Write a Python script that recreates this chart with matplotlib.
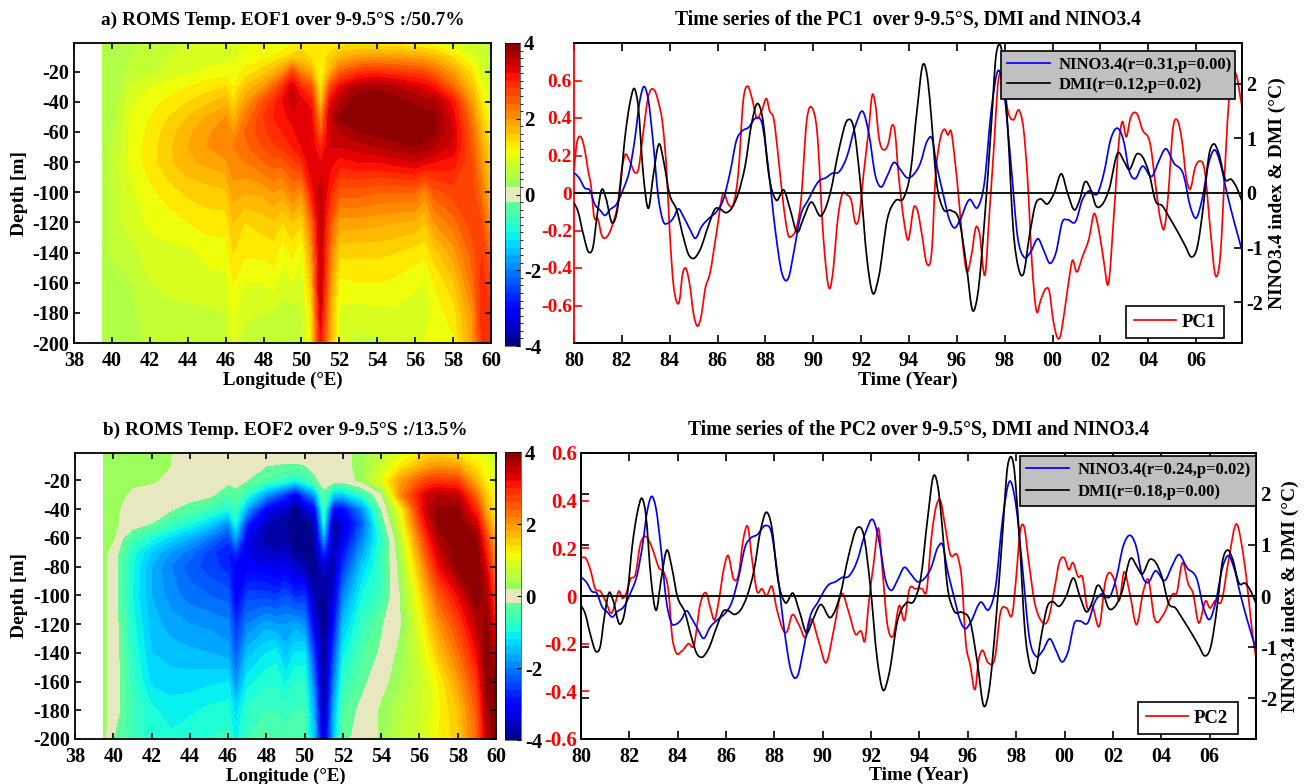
import numpy as np
import matplotlib
matplotlib.use('Agg')
import matplotlib.pyplot as plt
from matplotlib.colors import ListedColormap, BoundaryNorm
from matplotlib.lines import Line2D
from matplotlib.patches import PathPatch
from matplotlib.path import Path

plt.rcParams['font.family'] = ['Liberation Serif', 'DejaVu Serif']
plt.rcParams['font.weight'] = 'bold'
plt.rcParams['axes.labelweight'] = 'bold'
plt.rcParams['axes.unicode_minus'] = False

W, H = 1306, 784

lon = [39.5, 40, 40.5, 41, 42, 43, 44, 45, 46, 46.4, 47, 48, 48.5, 49, 49.5, 50, 50.5, 51, 51.5, 52,
       53, 54, 55, 56, 56.5, 57, 58, 59, 59.5, 60]
depth = [-1, -10, -20, -30, -40, -50, -60, -70, -80, -100, -120, -140, -160, -180, -200]

eof1 = [
    [.5, .5, .5, .5, .7, .75, .8, .85, .85, .85, 1.0, 1.05, 1.1, 1.1, 1.15, 1.3, 1.3, 1.3, 1.3, 1.3, 1.3, 1.25, 1.2, 1.2, 1.15, 1.05, .9, .7, .7, .7],
    [.5, .5, .55, .6, .7, .8, .85, .9, .95, .95, 1.05, 1.15, 1.2, 1.3, 1.45, 1.5, 1.35, 1.3, 1.45, 1.7, 1.9, 1.95, 1.9, 1.85, 1.8, 1.7, 1.35, 1.0, .8, .7],
    [.5, .5, .55, .65, .75, .85, .95, 1.05, 1.1, 1.05, 1.25, 1.5, 1.7, 2.0, 2.7, 2.1, 1.8, 1.05, 1.8, 2.4, 2.8, 2.9, 2.8, 2.7, 2.6, 2.4, 1.9, 1.3, .9, .7],
    [.5, .5, .6, .85, 1.0, 1.1, 1.2, 1.3, 1.4, 1.2, 1.6, 2.0, 2.4, 2.9, 3.4, 2.9, 2.6, 1.2, 2.6, 3.2, 3.7, 3.75, 3.6, 3.4, 3.3, 3.1, 2.4, 1.6, 1.1, .8],
    [.45, .5, .7, .95, 1.1, 1.25, 1.4, 1.55, 1.7, 1.4, 1.9, 2.6, 2.9, 3.2, 3.5, 3.3, 3.1, 1.5, 3.2, 3.6, 3.95, 4.0, 3.9, 3.75, 3.7, 3.7, 3.1, 1.9, 1.3, .95],
    [.45, .5, .75, 1.0, 1.2, 1.4, 1.6, 1.8, 2.0, 1.7, 2.2, 2.8, 3.0, 3.1, 3.3, 3.4, 3.3, 2.0, 3.5, 3.85, 3.95, 4.0, 4.0, 3.95, 3.9, 3.85, 3.3, 2.2, 1.5, 1.05],
    [.45, .55, .8, 1.05, 1.25, 1.5, 1.75, 1.95, 2.15, 1.95, 2.4, 2.75, 2.9, 3.0, 3.1, 3.4, 3.4, 2.4, 3.5, 3.6, 3.8, 3.9, 3.95, 4.0, 3.9, 3.85, 3.4, 2.4, 1.7, 1.2],
    [.5, .65, .8, 1.05, 1.3, 1.55, 1.8, 2.0, 2.15, 2.2, 2.35, 2.6, 2.75, 2.85, 3.0, 3.2, 3.4, 2.9, 3.4, 3.4, 3.5, 3.6, 3.7, 3.8, 3.7, 3.6, 3.35, 2.5, 1.9, 1.3],
    [.5, .7, .85, 1.05, 1.3, 1.55, 1.75, 1.85, 1.95, 2.15, 2.2, 2.4, 2.5, 2.5, 2.7, 2.9, 3.4, 3.2, 3.3, 3.1, 3.2, 3.2, 3.3, 3.4, 3.3, 3.2, 3.1, 2.6, 2.0, 1.4],
    [.5, .7, .8, .95, 1.15, 1.3, 1.45, 1.5, 1.55, 1.9, 1.8, 1.85, 2.0, 1.9, 2.2, 2.0, 3.0, 3.6, 3.0, 2.5, 2.5, 2.4, 2.4, 2.4, 2.1, 2.5, 2.7, 2.7, 2.3, 1.6],
    [.5, .7, .8, .85, 1.05, 1.1, 1.2, 1.3, 1.3, 1.6, 1.4, 1.5, 1.55, 1.4, 1.6, 1.45, 2.3, 3.6, 2.6, 1.9, 1.9, 1.85, 1.8, 1.75, 1.6, 2.0, 2.3, 2.7, 2.6, 1.9],
    [.5, .65, .75, .75, .9, .95, .95, 1.05, 1.1, 1.4, 1.25, 1.25, 1.3, 1.1, 1.25, 1.05, 1.9, 3.6, 2.3, 1.45, 1.45, 1.45, 1.4, 1.3, 1.25, 1.5, 1.9, 2.5, 2.8, 2.3],
    [.5, .45, .45, .6, .8, .85, .9, .95, .95, 1.2, 1.0, 1.0, 1.1, .85, 1.0, .85, 1.6, 3.6, 2.1, 1.15, 1.2, 1.2, 1.15, 1.05, 1.0, 1.2, 1.55, 2.3, 2.9, 2.6],
    [.5, .5, .5, .55, .7, .75, .75, .75, .8, 1.05, .85, .8, .8, .75, .75, .75, 1.3, 3.4, 1.9, .95, .9, .95, .95, .9, .85, 1.1, 1.3, 2.0, 2.9, 2.9],
    [.5, .5, .5, .5, .65, .7, .7, .7, .75, 1.0, .7, .65, .7, .6, .55, .7, 1.2, 3.1, 1.8, .85, .75, .75, .85, .95, 1.05, 1.2, 1.15, 1.9, 2.8, 3.0],
]

eof2 = [
    [.4, .4, .4, .4, .3, .2, .1, .05, 0, 0, 0, 0, 0, -.02, -.02, 0, .05, .05, .05, .1, .3, .6, .95, 1.25, 1.4, 1.45, 1.3, 1.0, .95, .9],
    [.4, .4, .4, .4, .35, .2, .05, 0, -.05, -.05, -.08, -.2, -.22, -.25, -.25, -.22, -.1, 0, .03, .05, .35, .8, 1.25, 1.7, 1.9, 2.0, 1.9, 1.3, 1.05, .95],
    [.35, .35, .33, .3, .25, .1, .05, 0, -.1, -.1, -.2, -.45, -.55, -.7, -1.0, -.7, -.3, -.05, -.02, 0, .3, 1.0, 1.9, 2.5, 2.7, 2.8, 2.7, 1.7, 1.2, 1.0],
    [.3, .3, .25, .1, .05, 0, 0, -.1, -.45, -.3, -.8, -1.8, -2.2, -2.6, -3.2, -2.4, -1.8, -.3, -1.4, -1.4, -.7, .1, 2.1, 3.1, 3.5, 3.6, 3.5, 2.3, 1.5, 1.1],
    [.3, .3, .15, .05, 0, -.15, -.4, -.6, -.9, -.6, -1.7, -3.1, -3.4, -3.5, -3.9, -3.5, -3.1, -.6, -3.0, -3.0, -1.9, -.2, 1.1, 3.0, 3.6, 3.85, 3.85, 2.9, 1.8, 1.2],
    [.3, .3, .1, 0, -.2, -.6, -.9, -1.3, -1.9, -1.0, -2.7, -3.6, -3.7, -3.8, -3.95, -3.9, -3.7, -1.0, -3.8, -3.4, -2.3, -.5, .9, 2.7, 3.4, 3.9, 4.0, 3.4, 2.2, 1.3],
    [.3, .25, -.2, -.5, -.9, -1.3, -1.6, -2.0, -2.5, -1.7, -3.2, -3.7, -3.75, -3.7, -3.95, -3.95, -3.85, -1.7, -3.85, -3.3, -2.0, -.8, .6, 2.3, 3.1, 3.7, 4.0, 3.8, 2.7, 1.6],
    [.3, 0, -.4, -.9, -1.4, -1.8, -2.1, -2.5, -2.8, -2.6, -3.3, -3.5, -3.6, -3.5, -3.8, -3.9, -3.85, -2.6, -3.7, -2.9, -1.7, -.7, .45, 2.0, 2.8, 3.4, 4.0, 4.0, 3.0, 1.9],
    [.3, 0, -.45, -.95, -1.6, -2.0, -2.3, -2.5, -2.7, -3.1, -3.1, -3.2, -3.3, -3.2, -3.5, -3.7, -3.9, -3.4, -3.7, -2.6, -1.4, -.7, .35, 1.7, 2.5, 3.2, 3.9, 4.0, 3.3, 2.1],
    [.3, 0, -.5, -1.0, -1.6, -1.9, -2.1, -2.2, -2.3, -3.2, -2.5, -2.5, -2.6, -2.4, -2.7, -2.6, -3.7, -3.9, -3.4, -2.0, -1.0, -.6, .2, 1.3, 1.9, 2.5, 3.2, 4.0, 3.7, 2.6],
    [.3, 0, -.4, -.9, -1.5, -1.7, -1.8, -1.85, -1.95, -2.7, -2.0, -1.7, -1.8, -1.8, -1.7, -1.9, -3.2, -4.0, -3.0, -1.5, -.7, -.25, .15, 1.0, 1.5, 2.0, 2.7, 3.6, 3.9, 3.0],
    [.3, 0, -.35, -.8, -1.4, -1.5, -1.55, -1.6, -1.7, -2.3, -1.5, -1.2, -1.1, -1.5, -1.2, -1.15, -2.6, -4.0, -2.5, -1.1, -.45, -.15, .3, .85, 1.2, 1.6, 2.3, 3.2, 3.95, 3.5],
    [.3, 0, -.3, -.7, -1.25, -1.3, -1.3, -1.25, -1.2, -1.9, -1.1, -.85, -.85, -1.05, -.8, -.8, -2.1, -4.0, -2.1, -.75, -.3, .05, .4, .7, .95, 1.2, 1.9, 2.8, 3.9, 3.9],
    [.3, 0, -.3, -.6, -.95, -1.1, -1.05, -.95, -.9, -1.3, -.75, -.6, -.6, -.7, -.6, -.6, -1.7, -3.9, -1.7, -.45, -.1, .25, .55, .75, .95, 1.15, 1.6, 2.5, 3.7, 4.0],
    [.3, -.2, -.4, -.6, -.9, -.95, -.85, -.8, -.7, -1.1, -.6, -.45, -.45, -.5, -.4, -.55, -1.5, -3.6, -1.5, -.3, -.05, .25, .65, .85, 1.0, 1.2, 1.5, 2.4, 3.5, 4.0],
]

dmi_t = [80, 80.17, 80.38, 80.63, 80.8, 80.96, 81.17, 81.33, 81.6, 81.77, 81.91, 82.12, 82.33, 82.53, 82.68, 82.89, 83.11, 83.31, 83.56, 83.76, 83.98,
         84.29, 84.6, 84.78, 84.99, 85.27, 85.61, 85.9, 86.1, 86.34, 86.59, 86.87, 87.15, 87.43, 87.67, 87.89, 88.13, 88.45, 88.78, 89.04, 89.34, 89.57, 89.9,
         90.33, 90.71, 91.06, 91.44, 91.69, 91.97, 92.25, 92.49, 92.74, 93.09, 93.44, 93.78, 94.06, 94.34, 94.59, 94.8, 94.93, 95.14, 95.42, 95.76, 96.11, 96.39,
         96.67, 96.88, 97.15, 97.43, 97.64, 97.75, 97.89, 98.13, 98.36, 98.58, 98.78, 99.03, 99.31, 99.49, 99.79, 100.07, 100.38, 100.63, 100.93, 101.14, 101.35,
         101.6, 101.81, 102.08, 102.36, 102.74, 102.99, 103.19, 103.54, 103.75, 104.03, 104.31, 104.58, 104.86, 105.28, 105.56, 105.79, 106.04, 106.32, 106.53,
         106.74, 106.94, 107.22, 107.47, 107.71, 107.92]
dmi = [-.18, -.34, -.74, -1.09, -.98, -.43, .07, -.09, -.55, -.4, 0, .98, 1.63, 1.91, 1.6, .37, -.28, .31, .9, .55, 0,
       -.31, -.86, -1.12, -1.2, -1.04, -.61, -.29, -.29, -.36, -.28, 0, .49, 1.29, 1.64, 1.35, .37, -.13, .05, -.31, -.72, -.49, -.17,
       -.42, 0, .77, 1.34, 1.2, .18, -1.23, -1.84, -1.53, -.49, -.14, -.09, .37, 1.53, 2.36, 2.02, 1.41, .25, -.28, -.32, -.52, -1.29,
       -2.16, -1.84, -.55, 1.17, 2.52, 2.72, 2.58, 1.17, -.67, -1.38, -1.49, -.8, -.18, -.11, -.2, 0, .35, 0, -.31, -.12, .2,
       .06, -.23, -.21, .06, .74, .58, .43, .72, .67, .37, -.15, -.23, -.43, -.75, -.98, -1.17, -1.01, -.18, .67,
       .9, .74, .25, .25, .09, -.15]

nino_t = [80, 80.21, 80.45, 80.66, 80.87, 81.08, 81.31, 81.49, 81.77, 82.05, 82.33, 82.54, 82.75, 82.92, 83.1, 83.31, 83.52, 83.73, 83.94, 84.15, 84.36, 84.57,
          84.85, 85.06, 85.34, 85.68, 85.96, 86.24, 86.52, 86.8, 87.01, 87.29, 87.64, 87.85, 88.13, 88.41, 88.69, 88.97, 89.18, 89.46, 89.8, 90.22, 90.57, 90.78,
          91.06, 91.41, 91.76, 92.08, 92.32, 92.6, 92.83, 93.09, 93.37, 93.64, 93.92, 94.2, 94.48, 94.76, 94.97, 95.14, 95.42, 95.69, 95.9, 96.11, 96.53, 96.88,
          97.15, 97.43, 97.75, 97.99, 98.26, 98.54, 98.82, 99.1, 99.4, 99.65, 99.89, 100.14, 100.42, 100.63, 100.97, 101.25, 101.53, 101.88, 102.15, 102.43, 102.75,
          102.99, 103.19, 103.44, 103.75, 104.17, 104.44, 104.72, 105.07, 105.49, 105.76, 106, 106.25, 106.53, 106.78, 107.01, 107.29, 107.57, 107.92]
nino = [.37, .28, .09, .05, -.21, -.31, -.41, -.31, -.21, .06, .43, .98, 1.69, 1.95, 1.72, .92, -.06, -.52, -.55, -.46, -.29, -.43,
        -.67, -.83, -.61, -.45, -.34, -.12, .37, .98, 1.13, 1.2, 1.38, 1.29, .43, -.67, -1.47, -1.55, -1.1, -.43, -.12, .21, .29, .36,
        .38, .67, 1.23, 1.49, 1.1, .31, .11, .31, .56, .43, .28, .34, .55, .95, .99, .55, 0, -.49, -.64, -.52, -.12, -.26,
        .18, 1.47, 2.25, 1.78, .55, -.8, -1.18, -1.07, -.84, -1.07, -1.29, -1.1, -.52, -.49, -.52, -.12, .04, -.01, .37, .98, 1.18,
        .92, .43, .26, .49, .31, .58, .81, .55, .31, -.25, -.46, -.12, .55, .79, .55, 0, -.49, -1.05]

pc1_t = [80, 80.1, 80.28, 80.45, 80.59, 80.73, 80.82, 81, 81.17, 81.31, 81.49, 81.63, 81.84, 81.98, 82.12, 82.33, 82.54, 82.68, 82.89, 83.1, 83.35, 83.52, 83.73, 83.87,
         84.01, 84.15, 84.29, 84.4, 84.54, 84.66, 84.85, 84.99, 85.17, 85.34, 85.47, 85.68, 85.96, 86.24, 86.45, 86.66, 86.87, 87.08, 87.26, 87.43, 87.64, 87.85, 88.06,
         88.17, 88.34, 88.55, 88.76, 88.97, 89.1, 89.31, 89.48, 89.73, 89.97, 90.15, 90.43, 90.68, 90.85, 90.99, 91.2, 91.41, 91.59, 91.76, 91.9, 92.11, 92.32, 92.46,
         92.6, 92.74, 92.97, 93.15, 93.29, 93.4, 93.57, 93.78, 93.95, 94.23, 94.37, 94.55, 94.76, 94.97, 95.1, 95.28, 95.49, 95.63, 95.76, 95.9, 96.11, 96.25, 96.42,
         96.6, 96.81, 96.94, 97.19, 97.36, 97.57, 97.71, 97.95, 98.13, 98.36, 98.61, 98.79, 98.96, 99.14, 99.33, 99.51, 99.72, 99.86, 100.03, 100.31, 100.49, 100.69,
         100.83, 101, 101.25, 101.53, 101.74, 101.94, 102.15, 102.32, 102.57, 102.78, 102.92, 103.08, 103.26, 103.54, 103.75, 104.1, 104.31, 104.51, 104.67, 104.83,
         105.03, 105.21, 105.42, 105.58, 105.74, 105.97, 106.14, 106.36, 106.6, 106.81, 107.01, 107.22, 107.39, 107.64, 107.92]
pc1 = [.12, .25, .3, .23, .12, .02, -.11, -.14, -.23, -.24, -.21, -.16, -.05, .11, .2, .17, .11, .12, .32, .51, .55, .49, .34, .12,
       -.23, -.48, -.58, -.58, -.43, -.4, -.5, -.64, -.71, -.64, -.52, -.43, -.21, 0, -.06, -.06, .11, .5, .57, .51, .4, .44, .5,
       .44, .4, .18, -.07, -.23, -.23, -.18, -.05, .39, .45, .34, -.25, -.51, -.39, -.18, -.01, -.01, -.04, -.16, -.14, .11, .34, .52,
       .47, .3, .23, .27, .36, .34, .09, -.14, -.25, -.07, -.1, -.23, -.38, -.28, .07, .27, .34, .31, .33, .2, -.07, -.27, -.42,
       -.34, -.18, -.21, -.43, -.11, .28, .57, .6, .44, .39, .44, .34, .07, -.37, -.63, -.57, -.51, -.52, -.68, -.77, -.64, -.46,
       -.36, -.42, -.34, -.24, -.11, -.2, -.37, -.49, -.11, .28, .38, .3, .4, .42, .34, .25, .04, -.14, -.19, -.02,
       .34, .39, .27, .09, .02, .14, .17, .12, -.2, -.44, -.34, .16, .53, .64, .46]

pc2_t = [80, 80.18, 80.39, 80.59, 80.8, 81.01, 81.28, 81.42, 81.56, 81.72, 81.9, 82.04, 82.25, 82.46, 82.63, 82.87, 83.08, 83.21, 83.42, 83.63, 83.77, 83.9, 84.18, 84.46,
         84.66, 84.94, 85.19, 85.35, 85.52, 85.7, 85.9, 86.07, 86.32, 86.52, 86.7, 86.9, 87.08, 87.28, 87.49, 87.67, 87.9, 88.11, 88.52, 88.73, 89.01, 89.32, 89.49,
         89.83, 90.14, 90.46, 90.77, 91.08, 91.35, 91.6, 91.74, 91.9, 92.11, 92.32, 92.46, 92.66, 92.9, 93.17, 93.39, 93.56, 93.83, 94.11, 94.29, 94.5, 94.7, 94.87,
         95.05, 95.26, 95.6, 95.74, 95.92, 96.08, 96.33, 96.43, 96.57, 96.84, 97.12, 97.35, 97.6, 97.85, 98.01, 98.15, 98.33, 98.5, 98.77, 99.01, 99.32, 99.6, 99.78,
         99.99, 100.19, 100.33, 100.57, 100.74, 100.94, 101.14, 101.46, 101.67, 102.08, 102.26, 102.46, 102.7, 102.98, 103.26, 103.46, 103.71, 104.08, 104.5, 104.63,
         104.88, 105.12, 105.32, 105.53, 105.85, 106.01, 106.22, 106.5, 106.77, 107.14, 107.32, 107.53, 107.74, 107.92]
pc2 = [.16, .16, .11, .03, .02, -.02, -.07, -.03, .02, -.01, .02, .07, .09, .22, .25, .22, .16, .12, .1, .01, -.17, -.23, -.23, -.2,
       -.21, -.03, .01, -.05, -.1, -.02, .11, .17, .07, .09, .23, .29, .15, .02, .03, 0, .04, -.06, -.15, -.08, -.12, -.17, -.1,
       -.19, -.28, -.14, .01, -.07, -.16, -.15, -.19, -.03, .14, .28, .12, -.11, -.17, -.04, -.1, .02, .03, .03, .02, .25, .38, .4,
       .3, .18, .16, .08, -.2, -.28, -.38, -.28, -.23, -.28, -.26, -.07, -.05, -.07, .09, .26, .29, .16, -.03, -.1, -.1, .04, .14,
       .16, .11, .14, .08, .08, -.05, -.04, -.12, .05, .06, -.02, .1, .01, -.12, .02, .07, -.09, -.08, .01, .01,
       .14, .05, .01, -.11, -.02, -.05, -.02, -.02, .14, .3, .22, .07, -.13, -.26]

xtick_pos = [80, 82, 84, 86, 88, 90, 92, 94, 96, 98, 100, 102, 104, 106]
xtick_lab = ['80', '82', '84', '86', '88', '90', '92', '94', '96', '98', '00', '02', '04', '06']
lon_ticks = [38, 40, 42, 44, 46, 48, 50, 52, 54, 56, 58, 60]
depth_ticks = [-20, -40, -60, -80, -100, -120, -140, -160, -180, -200]
cb_ticks = [-4, -2, 0, 2, 4]
pc_ticks = [-.6, -.4, -.2, 0, .2, .4, .6]
pc_labs = ['-0.6', '-0.4', '-0.2', '0', '0.2', '0.4', '0.6']

fig = plt.figure(figsize=(W / 100, H / 100), dpi=100)

# 40 jet steps, the two around zero are the pale band
jet = plt.get_cmap('jet')
cols = [jet((i + 0.5) / 40) for i in range(40)]
cols[19] = cols[20] = '#e8e8c0'
cmap = ListedColormap(cols)
levels = np.linspace(-4, 4, 41)
norm = BoundaryNorm(levels, 40)


def box(l, t, r, b):
    return [l / W, 1 - b / H, (r - l) / W, (b - t) / H]


def smooth_line(ax, t, y, color):
    # curve through the read points, the source lines are smooth
    t = np.array(t, float)
    y = np.array(y, float)
    m = np.gradient(y, t)
    verts = [(t[0], y[0])]
    codes = [Path.MOVETO]
    for i in range(len(t) - 1):
        d = (t[i + 1] - t[i]) / 3
        verts += [(t[i] + d, y[i] + m[i] * d), (t[i + 1] - d, y[i + 1] - m[i + 1] * d), (t[i + 1], y[i + 1])]
        codes += [Path.CURVE4] * 3
    ax.add_patch(PathPatch(Path(verts, codes), fill=False, edgecolor=color, lw=1.25))


def eof_panel(rect, cb_rect, field, title, title_y, xlabel_y):
    ax = fig.add_axes(box(*rect))
    cf = ax.contourf(lon, depth, np.clip(np.array(field), -3.99, 3.99), levels=levels, cmap=cmap, norm=norm)
    ax.set_xlim(38, 60)
    ax.set_ylim(-200, -1)
    ax.set_xticks(lon_ticks)
    ax.set_yticks(depth_ticks)
    ax.tick_params(direction='in', length=4, width=1.2, top=True, right=True, labelsize=14.5)
    ax.tick_params(axis='x', pad=5.5)
    ax.tick_params(axis='y', pad=3.5)
    for s in ax.spines.values():
        s.set_linewidth(1.3)
        s.set_zorder(5)
    ax.set_xlabel('Longitude (°E)', fontsize=13.5)
    ax.xaxis.set_label_coords(0.5, (rect[3] - xlabel_y) / (rect[3] - rect[1]))
    ax.set_ylabel('Depth [m]', fontsize=14)
    ax.yaxis.set_label_coords((28 - rect[0]) / (rect[2] - rect[0]), 0.5)
    fig.text((rect[0] + rect[2]) / 2 / W, 1 - title_y / H, title, ha='center', va='center', fontsize=13.9)
    cax = fig.add_axes(box(*cb_rect))
    cb = fig.colorbar(cf, cax=cax, ticks=cb_ticks)
    cb.ax.tick_params(direction='in', length=3, width=0.8, labelsize=15, pad=3)
    cb.ax.minorticks_off()
    cb.ax.set_yticklabels([str(v) for v in cb_ticks])
    cb.outline.set_linewidth(0.4)
    cb.dividers.set_visible(False)
    return ax


def pc_panel(rect, pc_t, pc, pc_name, ylim1, ylim2, red_spine, lab1, lab2, pad1, title, title_y, rlabel_x, xlabel_y, r_txt, p_txt, grey_px, pc_px):
    ax1 = fig.add_axes(box(*rect))
    smooth_line(ax1, pc_t, pc, 'r')
    ax1.set_xlim(80, 107.92)
    ax1.set_ylim(*ylim1)
    ax1.set_xticks(xtick_pos)
    ax1.set_xticklabels(xtick_lab)
    ax1.set_yticks(pc_ticks)
    ax1.set_yticklabels(pc_labs)
    ax1.tick_params(axis='y', colors='r', direction='in', length=6, width=1.2, labelsize=lab1, right=red_spine, pad=pad1)
    ax1.tick_params(axis='x', direction='in', length=6, width=1.2, top=True, labelsize=14.5, pad=5.5)
    ax1.set_xlabel('Time (Year)', fontsize=14)
    ax1.xaxis.set_label_coords(0.5, (rect[3] - xlabel_y) / (rect[3] - rect[1]))
    for s in ax1.spines.values():
        s.set_linewidth(1.3)
    if red_spine:
        ax1.spines['left'].set_color('r')

    ax2 = ax1.twinx()
    ax2.set_ylim(*ylim2)
    ax2.set_xlim(80, 107.92)
    smooth_line(ax2, nino_t, nino, 'b')
    smooth_line(ax2, dmi_t, dmi, 'k')
    ax2.axhline(0, color='k', lw=1.3)
    ax2.set_yticks([-2, -1, 0, 1, 2])
    ax2.tick_params(axis='y', direction='in', length=6, width=1.2, labelsize=lab2, pad=3, left=not red_spine)
    for s in ax2.spines.values():
        s.set_linewidth(1.3)
    ax2.spines['left'].set_visible(not red_spine)
    ax2.set_ylabel('NINO3.4 index & DMI (°C)', fontsize=14)
    ax2.yaxis.set_label_coords((rlabel_x - rect[0]) / (rect[2] - rect[0]), 0.5)
    fig.text((rect[0] + rect[2]) / 2 / W, 1 - title_y / H, title, ha='center', va='center', fontsize=14.1)

    h_nino = Line2D([], [], color='b', lw=1.25)
    h_dmi = Line2D([], [], color='k', lw=1.25)
    h_pc = Line2D([], [], color='r', lw=1.25)
    row_gap = (grey_px[3] - grey_px[1] - 36) / 16.7
    leg1 = ax2.legend([h_nino, h_dmi], [r_txt, p_txt], loc='upper left', mode='expand',
                      bbox_to_anchor=box(*grey_px), bbox_transform=fig.transFigure, borderaxespad=0,
                      fancybox=False, framealpha=1, facecolor='#c0c0c0', edgecolor='k', fontsize=12,
                      handlelength=2.6, borderpad=0.35, labelspacing=row_gap / 2, handletextpad=0.5)
    leg1.get_frame().set_linewidth(1.2)
    ax2.add_artist(leg1)
    leg2 = ax2.legend([h_pc], [pc_name], loc='upper left', mode='expand',
                      bbox_to_anchor=box(*pc_px), bbox_transform=fig.transFigure, borderaxespad=0,
                      fancybox=False, framealpha=1, facecolor='w', edgecolor='k', fontsize=13.5,
                      handlelength=2.25, borderpad=0.4, handletextpad=0.3)
    leg2.get_frame().set_linewidth(1.2)


eof_panel((74, 43, 491, 343), (505, 43, 520, 346), eof1, 'a) ROMS Temp. EOF1 over 9-9.5°S :/50.7%', 20, 372)
eof_panel((75, 453, 496, 739), (505, 452, 521, 740), eof2, 'b) ROMS Temp. EOF2 over 9-9.5°S :/13.5%', 430, 768)

pc_panel((574, 43, 1242, 343), pc1_t, pc1, 'PC1', (-0.8, 0.8), (-2.75, 2.75), True, 14, 14.5, 1.5,
         'Time series of the PC1  over 9-9.5°S, DMI and NINO3.4', 20, 1269, 372,
         'NINO3.4(r=0.31,p=0.00)', 'DMI(r=0.12,p=0.02)', (1001, 51, 1235, 96), (1126, 306, 1224, 337))
pc_panel((581, 453, 1256, 739), pc2_t, pc2, 'PC2', (-0.6, 0.6), (-2.8, 2.8), False, 15, 15, 3,
         'Time series of the PC2 over 9-9.5°S, DMI and NINO3.4', 430, 1282, 767,
         'NINO3.4(r=0.24,p=0.02)', 'DMI(r=0.18,p=0.00)', (1020, 456, 1256, 505), (1138, 702, 1238, 733))

fig.savefig('out.png', dpi=100)
